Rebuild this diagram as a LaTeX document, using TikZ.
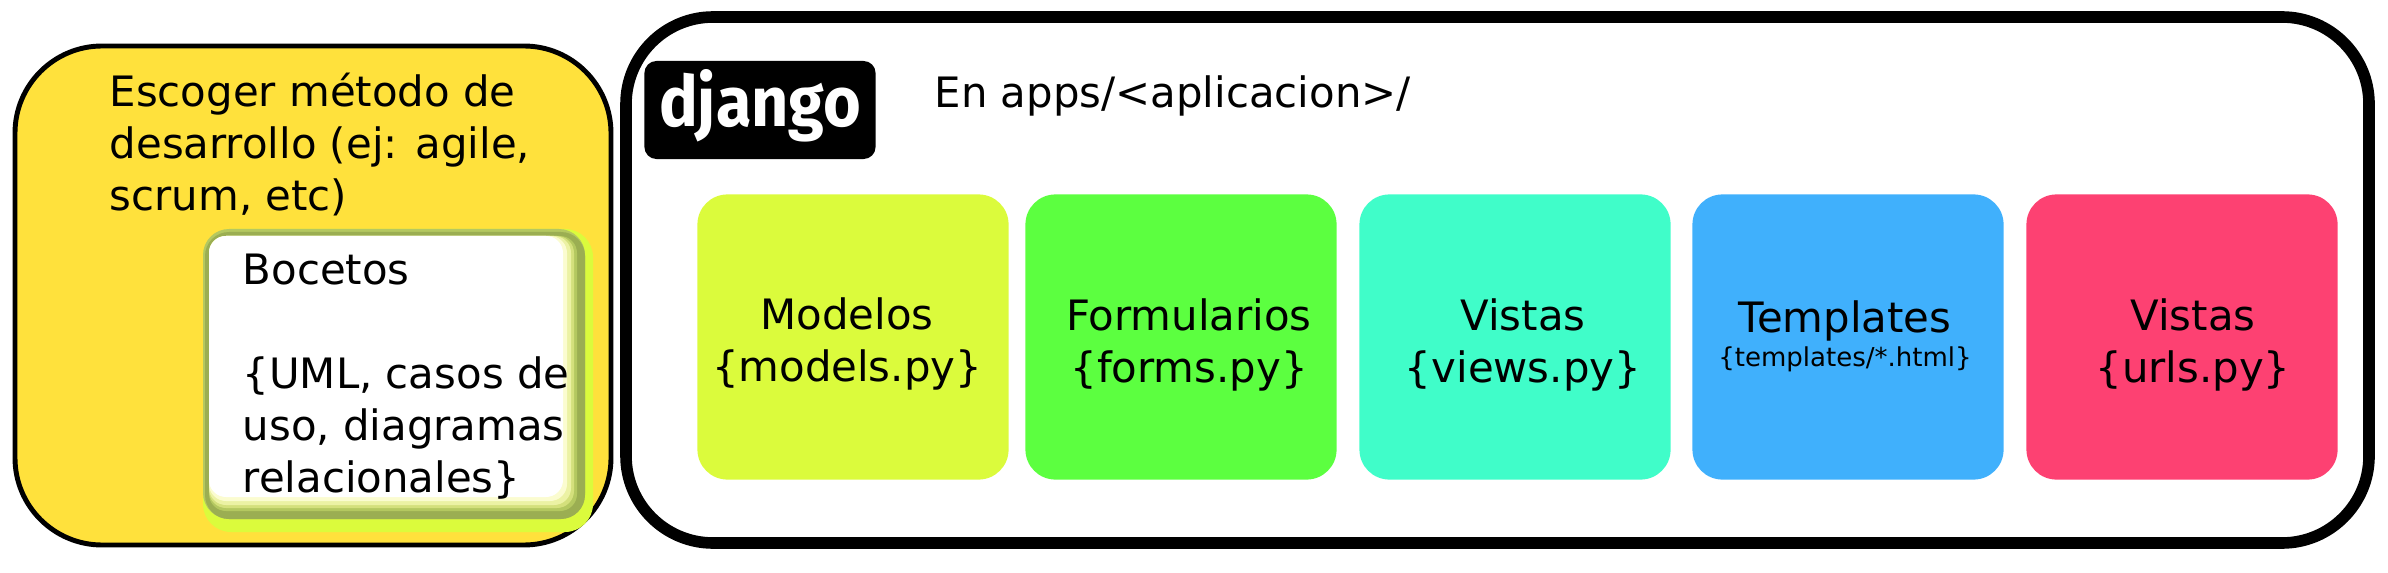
\documentclass[tikz,border=0pt]{standalone}
\usepackage{fontspec}
\setmainfont{DejaVu Sans}
\newfontfamily\logofont{Fira Sans}
\definecolor{boxYellow}{HTML}{FFE13C}
\definecolor{modelGreen}{HTML}{DBFB3C}
\definecolor{formGreen}{HTML}{5CFF40}
\definecolor{viewTeal}{HTML}{40FDC9}
\definecolor{tmplBlue}{HTML}{40B0FC}
\definecolor{urlPink}{HTML}{FD4172}
\definecolor{sketchOlive}{HTML}{9BAE52}
\definecolor{fadeA}{HTML}{B4C860}
\definecolor{fadeB}{HTML}{D4E07C}
\definecolor{fadeC}{HTML}{ECF2A4}
\definecolor{fadeD}{HTML}{FBFCD0}
\tikzset{
  appbox/.style={rounded corners=0.3cm, minimum width=3.11cm, minimum height=2.85cm, inner sep=0pt},
  apptxt/.style={inner sep=0pt, align=center, font=\fontsize{11.9}{14.8}\selectfont},
  txtnode/.style={anchor=north west, inner sep=0pt, align=left, font=\fontsize{11.9}{14.8}\selectfont}
}
\begin{document}
\begin{tikzpicture}[x=0.01cm, y=-0.01cm]
  \useasboundingbox (0,0) rectangle (2388,573);
  % left panel
  \draw[line width=1.4pt, fill=boxYellow, rounded corners=0.87cm] (15,46) rectangle (611,545);
  \node[txtnode] (metodo) at (109,72) {Escoger método de\\desarrollo (ej: agile,\\scrum, etc)};
  % sketch card
  \fill[modelGreen, rounded corners=0.28cm] (203,229) rectangle (593,532);
  \fill[fadeA, rounded corners=0.26cm] (203,229) rectangle (585,519);
  \fill[sketchOlive, rounded corners=0.24cm] (205,232) rectangle (585,519);
  \foreach \xr/\yb/\fadecol in {577/511/fadeA, 574/508/fadeB, 571/505/fadeC, 567/501/fadeD, 563/497/white}
    \fill[\fadecol, rounded corners=0.17cm] (209,236) rectangle (\xr,\yb);
  \node[txtnode] (bocetos) at (242,253) {Bocetos\\[14.8pt]\{UML, casos de\\uso, diagramas\\relacionales\}};
  % right panel
  \draw[line width=3.3pt, rounded corners=0.87cm] (626,17) rectangle (2369,543);
  \node[fill=black, rounded corners=0.12cm, minimum width=2.31cm, minimum height=0.98cm, inner sep=0pt] (logo) at (760,110) {};
  \node[anchor=base, text=white, inner sep=0pt, font=\logofont\bfseries\fontsize{20}{20}\selectfont] (logotxt) at (760,127) {\scalebox{0.92}[1]{django}};
  \node[anchor=west, inner sep=0pt, font=\fontsize{11.9}{15}\selectfont] (ruta) at (934,96) {En apps/<aplicacion>/};
  % app cards
  \node[appbox, fill=modelGreen] (modelos) at (853,337) {};
  \node[appbox, fill=formGreen] (formularios) at (1181,337) {};
  \node[appbox, fill=viewTeal] (vistas) at (1515,337) {};
  \node[appbox, fill=tmplBlue] (templates) at (1848,337) {};
  \node[appbox, fill=urlPink] (urls) at (2182,337) {};
  \node[apptxt] (modelostxt) at (847,344) {Modelos\\\{models.py\}};
  \node[apptxt] (formstxt) at (1189,345) {Formularios\\\{forms.py\}};
  \node[apptxt] (vistastxt) at (1523,345) {Vistas\\\{views.py\}};
  \node[apptxt, anchor=base] (tmpltxt) at (1845,332) {Templates};
  \node[anchor=base, inner sep=0pt, font=\fontsize{7.4}{9}\selectfont] (tmplsub) at (1845,366) {\{templates/*.html\}};
  \node[apptxt] (urlstxt) at (2193,345) {Vistas\\\{urls.py\}};
\end{tikzpicture}
\end{document}
